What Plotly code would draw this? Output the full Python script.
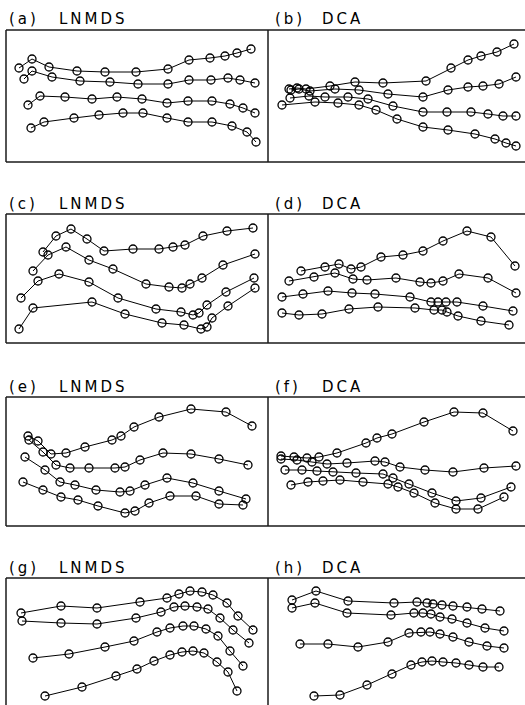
import plotly.graph_objects as go

# Ordination scores for four transects per panel (panel-local units; x right, y up)
a_x = [[13, 26, 43, 71, 99, 130, 162, 183, 204, 219, 231, 245],
       [18, 26, 46, 74, 104, 132, 162, 183, 205, 222, 234, 249],
       [22, 34, 59, 86, 111, 136, 161, 182, 206, 224, 237, 249],
       [25, 38, 68, 93, 117, 137, 161, 182, 206, 226, 241, 250]]
a_y = [[94, 103, 95, 91, 90, 90, 93, 102, 104, 106, 109, 113],
       [83, 91, 85, 81, 80, 78, 78, 82, 82, 84, 82, 79],
       [57, 66, 65, 63, 65, 63, 59, 61, 61, 58, 54, 49],
       [34, 40, 44, 47, 49, 49, 44, 40, 40, 36, 30, 20]]

b_x = [[21, 29, 38, 62, 87, 115, 158, 183, 200, 213, 229, 246],
       [23, 31, 42, 67, 91, 120, 155, 180, 200, 215, 231, 248],
       [22, 41, 57, 80, 100, 125, 155, 179, 203, 220, 235, 248],
       [14, 47, 70, 91, 108, 129, 155, 180, 207, 227, 238, 248]]
b_y = [[73, 74, 73, 76, 80, 79, 81, 94, 102, 106, 110, 118],
       [72, 73, 71, 73, 72, 68, 65, 72, 75, 76, 78, 85],
       [64, 66, 65, 65, 63, 56, 50, 50, 50, 48, 46, 46],
       [57, 60, 59, 57, 52, 43, 35, 32, 28, 23, 19, 16]]

c_x = [[37, 50, 65, 81, 98, 127, 153, 167, 179, 197, 221, 247],
       [27, 42, 60, 83, 107, 140, 163, 176, 184, 196, 217, 249],
       [15, 32, 53, 83, 112, 150, 175, 187, 193, 201, 220, 248],
       [13, 27, 86, 119, 156, 178, 195, 201, 206, 222, 249]]
c_y = [[91, 107, 114, 104, 92, 94, 94, 96, 98, 107, 112, 115],
       [72, 88, 96, 83, 74, 59, 56, 55, 59, 65, 78, 89],
       [45, 62, 69, 61, 45, 34, 31, 28, 30, 38, 51, 65],
       [14, 35, 41, 29, 20, 18, 14, 16, 25, 37, 55]]

d_x = [[33, 57, 71, 83, 93, 113, 135, 155, 175, 199, 223, 247],
       [21, 46, 67, 85, 99, 128, 152, 163, 175, 191, 220, 248],
       [14, 35, 60, 84, 107, 142, 163, 170, 178, 189, 215, 245],
       [14, 31, 54, 81, 110, 147, 166, 174, 179, 190, 213, 241]]
d_y = [[72, 76, 79, 74, 76, 86, 88, 92, 102, 112, 106, 77],
       [62, 66, 70, 64, 63, 65, 61, 60, 62, 69, 65, 50],
       [46, 49, 52, 50, 49, 46, 41, 41, 41, 41, 37, 32],
       [30, 28, 29, 34, 36, 35, 33, 33, 31, 27, 22, 18]]

e_x = [[22, 32, 45, 60, 79, 106, 115, 128, 153, 185, 220, 246],
       [23, 37, 50, 64, 83, 109, 119, 134, 157, 185, 213, 242],
       [19, 39, 54, 69, 90, 114, 124, 139, 161, 187, 213, 240],
       [17, 37, 55, 72, 92, 119, 129, 143, 164, 190, 213, 237]]
e_y = [[90, 85, 72, 73, 79, 86, 90, 99, 109, 117, 114, 100],
       [86, 74, 61, 58, 58, 58, 59, 66, 73, 72, 67, 61],
       [69, 56, 44, 41, 36, 34, 35, 41, 48, 43, 35, 27],
       [44, 36, 29, 26, 20, 13, 15, 23, 30, 30, 22, 21]]

f_x = [[13, 26, 39, 51, 69, 98, 109, 124, 156, 186, 215, 245],
       [13, 29, 44, 59, 79, 107, 117, 132, 157, 185, 216, 248],
       [17, 34, 49, 65, 88, 115, 125, 141, 164, 188, 213, 243],
       [23, 40, 55, 72, 95, 120, 130, 146, 167, 188, 210, 236]]
f_y = [[70, 69, 68, 69, 73, 83, 88, 92, 104, 114, 113, 95],
       [67, 66, 64, 62, 63, 65, 64, 59, 56, 54, 58, 60],
       [56, 56, 55, 54, 53, 52, 48, 42, 33, 25, 28, 39],
       [41, 44, 45, 46, 44, 42, 39, 33, 23, 17, 17, 29]]

g_x = [[15, 55, 91, 134, 161, 173, 184, 196, 207, 221, 232, 247],
       [16, 55, 91, 130, 155, 168, 179, 191, 202, 214, 227, 243],
       [27, 63, 99, 128, 151, 164, 177, 188, 200, 212, 224, 237],
       [39, 76, 110, 131, 148, 164, 176, 187, 198, 211, 222, 231]]
g_y = [[95, 102, 100, 106, 110, 114, 117, 116, 113, 105, 92, 78],
       [87, 85, 84, 90, 96, 101, 102, 101, 99, 90, 78, 65],
       [50, 54, 61, 67, 76, 80, 82, 82, 79, 72, 57, 42],
       [12, 21, 32, 39, 47, 53, 56, 57, 55, 46, 36, 17]]

h_x = [[24, 48, 80, 126, 149, 159, 165, 174, 185, 199, 214, 232],
       [24, 47, 79, 123, 146, 155, 163, 172, 184, 199, 217, 236],
       [32, 60, 90, 120, 141, 153, 162, 172, 185, 201, 219, 236],
       [46, 72, 99, 124, 143, 154, 164, 175, 188, 201, 215, 231]]
h_y = [[108, 117, 107, 105, 106, 105, 104, 103, 102, 101, 99, 97],
       [100, 105, 95, 93, 95, 95, 94, 91, 89, 85, 80, 77],
       [64, 64, 61, 66, 75, 76, 76, 74, 71, 66, 62, 60],
       [12, 13, 23, 34, 43, 46, 47, 46, 45, 43, 41, 41]]

panel_tags = ["(a)", "(b)", "(c)", "(d)", "(e)", "(f)", "(g)", "(h)"]
panel_methods = ["LNMDS", "DCA", "LNMDS", "DCA", "LNMDS", "DCA", "LNMDS", "DCA"]

panels_x = [a_x, b_x, c_x, d_x, e_x, f_x, g_x, h_x]
panels_y = [a_y, b_y, c_y, d_y, e_y, f_y, g_y, h_y]

W, H = 525, 705
LEFT, MID = 6, 268
# (bottom, top) pixel rows of each pair of frames
rows = [(162, 30), (343, 214), (526, 397), (708, 578)]

fig = go.Figure()
layout = {}
shapes = []
annotations = []


def spaced(s):
    return "\u2009".join(s)


for i in range(8):
    r, c = divmod(i, 2)
    bot, top = rows[r]
    n = i + 1
    xa = "xaxis" if n == 1 else f"xaxis{n}"
    ya = "yaxis" if n == 1 else f"yaxis{n}"
    if c == 0:
        xdom = [LEFT / W, MID / W]
        xrng = [0, MID - LEFT]
    else:
        xdom = [MID / W, 1.0]
        xrng = [0, W - MID]
    vis_bot = min(bot, H)
    ydom = [(H - vis_bot) / H, (H - top) / H]
    yrng = [bot - vis_bot, bot - top]
    layout[xa] = dict(domain=xdom, range=xrng, visible=False, fixedrange=True,
                      anchor=f"y{n}" if n > 1 else "y")
    layout[ya] = dict(domain=ydom, range=yrng, visible=False, fixedrange=True,
                      anchor=f"x{n}" if n > 1 else "x")
    for xs, ys in zip(panels_x[i], panels_y[i]):
        fig.add_trace(go.Scatter(
            x=xs, y=ys, mode="lines+markers",
            xaxis=f"x{n}" if n > 1 else "x", yaxis=f"y{n}" if n > 1 else "y",
            line=dict(color="black", width=1),
            marker=dict(symbol="circle-open", size=8, color="black",
                        line=dict(width=1.3, color="black")),
            showlegend=False, hoverinfo="skip"))

    # panel titles
    ty = (H - (top - 10.5)) / H
    tx0 = 7 if c == 0 else 273
    tx1 = 57 if c == 0 else 320
    annotations.append(dict(text=spaced(panel_tags[i]), x=tx0 / W, y=ty,
                            xref="paper", yref="paper", xanchor="left",
                            yanchor="middle", showarrow=False,
                            font=dict(family="DejaVu Sans", size=15, color="black")))
    annotations.append(dict(text=spaced(panel_methods[i]), x=tx1 / W, y=ty,
                            xref="paper", yref="paper", xanchor="left",
                            yanchor="middle", showarrow=False,
                            font=dict(family="DejaVu Sans", size=15, color="black")))

# frame lines
frame = dict(color="#1a1a1a", width=1.5)
for bot, top in rows:
    yt = (H - top) / H
    yb = max((H - bot) / H, 0)
    shapes.append(dict(type="line", xref="paper", yref="paper",
                       x0=LEFT / W, x1=1, y0=yt, y1=yt, line=frame))
    if bot <= H:
        shapes.append(dict(type="line", xref="paper", yref="paper",
                           x0=LEFT / W, x1=1, y0=yb, y1=yb, line=frame))
    for xv in (LEFT, MID):
        shapes.append(dict(type="line", xref="paper", yref="paper",
                           x0=xv / W, x1=xv / W, y0=yb, y1=yt, line=frame))

fig.update_layout(width=W, height=H, margin=dict(l=0, r=0, t=0, b=0),
                  paper_bgcolor="white", plot_bgcolor="white",
                  shapes=shapes, annotations=annotations, **layout)

fig.write_html("out.html")
